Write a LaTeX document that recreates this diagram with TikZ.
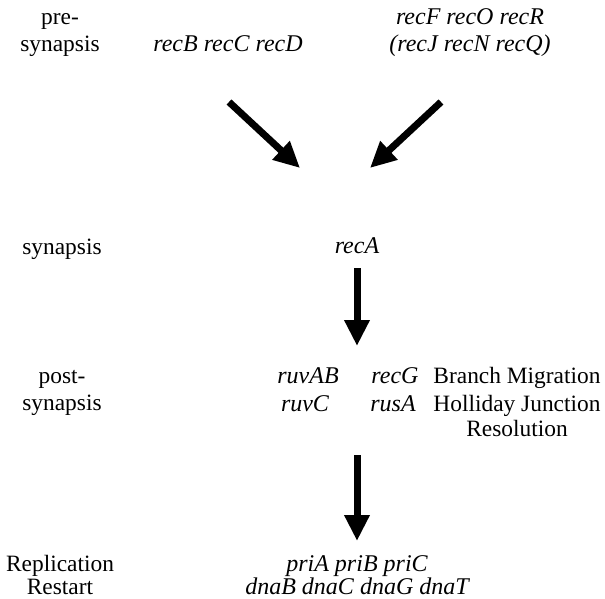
\documentclass[tikz,border=0pt]{standalone}
\usepackage{fontspec}
\setmainfont{Liberation Serif}
\usetikzlibrary{arrows.meta}
\begin{document}
\begin{tikzpicture}[x=0.5pt,y=-0.5pt,
  lbl/.style={font=\fontsize{11.7}{13}\selectfont, inner sep=0pt, anchor=base},
  gene/.style={lbl, font=\fontsize{12}{13}\selectfont\itshape},
  bigarrow/.style={line width=3.5pt, -{Triangle[length=13pt,width=12pt]}}]
\useasboundingbox (0,0) rectangle (605,599);
% stage labels
\node[lbl] (pre1) at (60,25) {pre-};
\node[lbl] (pre2) at (60,52) {synapsis};
\node[lbl] (syn) at (62,254) {synapsis};
\node[lbl] (post1) at (62,383) {post-};
\node[lbl] (post2) at (62,410) {synapsis};
\node[lbl] (rep1) at (60,571) {Replication};
\node[lbl] (rep2) at (60,594) {Restart};
% genes
\node[gene] (recBCD) at (228,52) {recB recC recD};
\node[gene] (recFOR) at (470,25) {recF recO recR};
\node[gene] (recJNQ) at (470,52) {(recJ recN recQ)};
\node[gene] (recA) at (357,253) {recA};
\node[gene] (ruvAB) at (308,383) {ruvAB};
\node[gene] (recG) at (395,383) {recG};
\node[lbl] (bm) at (517,383) {Branch Migration};
\node[gene] (ruvC) at (305,411) {ruvC};
\node[gene] (rusA) at (393,411) {rusA};
\node[lbl] (hj) at (517,411) {Holliday Junction};
\node[lbl] (res) at (517,436) {Resolution};
\node[gene] (pri) at (357,571) {priA priB priC};
\node[gene] (dna) at (357,594) {dnaB dnaC dnaG dnaT};
% arrow end points
\coordinate (a1s) at (229,102);
\coordinate (a1e) at (300,168);
\coordinate (a2s) at (441,102);
\coordinate (a2e) at (370,168);
\coordinate (a3s) at (357,268);
\coordinate (a3e) at (357,346);
\coordinate (a4s) at (357,455);
\coordinate (a4e) at (357,541);
\draw[bigarrow] (a1s) -- (a1e);
\draw[bigarrow] (a2s) -- (a2e);
\draw[bigarrow] (a3s) -- (a3e);
\draw[bigarrow] (a4s) -- (a4e);
\end{tikzpicture}
\end{document}
